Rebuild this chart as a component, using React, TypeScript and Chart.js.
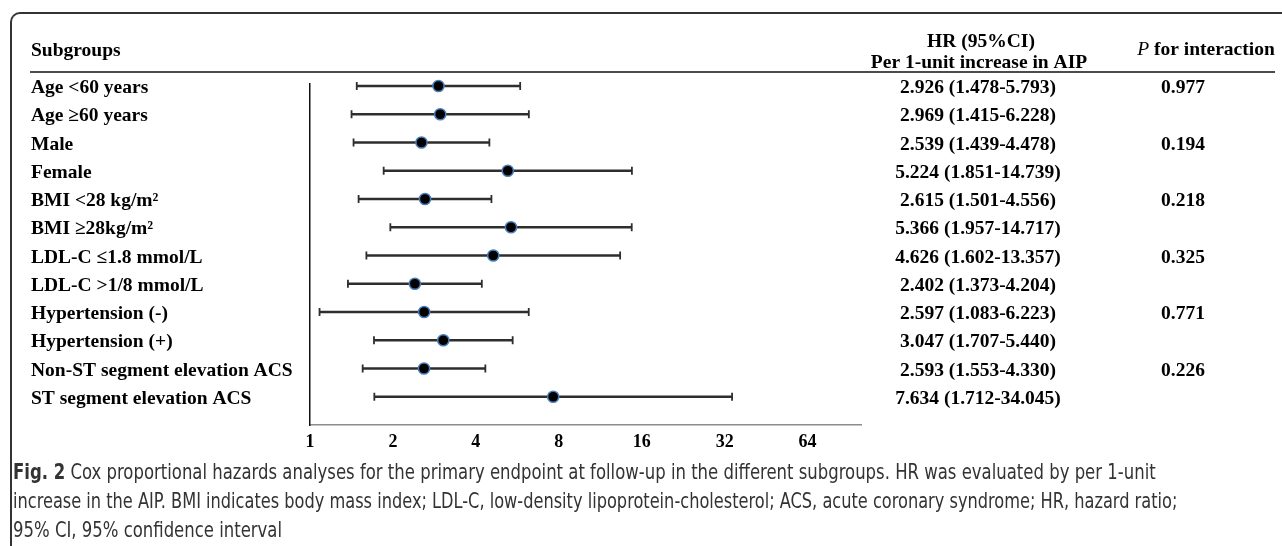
import React, { useEffect, useRef } from "react";
import { Chart, registerables } from "chart.js";

Chart.register(...registerables);

const subgroups = [
  "Age <60 years",
  "Age \u226560 years",
  "Male",
  "Female",
  "BMI <28 kg/m\u00b2",
  "BMI \u226528kg/m\u00b2",
  "LDL-C \u22641.8 mmol/L",
  "LDL-C >1/8 mmol/L",
  "Hypertension (-)",
  "Hypertension (+)",
  "Non-ST segment elevation ACS",
  "ST segment elevation ACS",
];
const hr = [2.926, 2.969, 2.539, 5.224, 2.615, 5.366, 4.626, 2.402, 2.597, 3.047, 2.593, 7.634];
const ciLow = [1.478, 1.415, 1.439, 1.851, 1.501, 1.957, 1.602, 1.373, 1.083, 1.707, 1.553, 1.712];
const ciHigh = [5.793, 6.228, 4.478, 14.739, 4.556, 14.717, 13.357, 4.204, 6.223, 5.44, 4.33, 34.045];
const pInteraction = ["0.977", "", "0.194", "", "0.218", "", "0.325", "", "0.771", "", "0.226", ""];
const xTicks = [1, 2, 4, 8, 16, 32, 64];

const SERIF = '"Liberation Serif", "Times New Roman", serif';

const hrText = hr.map(
  (v, i) => `${v.toFixed(3)} (${ciLow[i].toFixed(3)}-${ciHigh[i].toFixed(3)})`
);

const tablePlugin = {
  id: "tableText",
  afterDraw(chart: any) {
    const ctx = chart.ctx as CanvasRenderingContext2D;
    const yScale = chart.scales.y;
    ctx.save();
    ctx.fillStyle = "#000";
    ctx.textBaseline = "middle";
    ctx.font = `bold 19.5px ${SERIF}`;
    ctx.textAlign = "left";
    ctx.fillText("Subgroups", 31, 51);
    ctx.textAlign = "center";
    ctx.fillText("HR (95%CI)", 981, 42);
    ctx.fillText("Per 1-unit increase in AIP", 979, 63);
    // P for interaction
    ctx.font = `italic 19.5px ${SERIF}`;
    const wP = ctx.measureText("P").width;
    ctx.font = `bold 19.5px ${SERIF}`;
    const wRest = ctx.measureText(" for interaction").width;
    const startX = 1206 - (wP + wRest) / 2;
    ctx.textAlign = "left";
    ctx.font = `italic 19.5px ${SERIF}`;
    ctx.fillText("P", startX, 50);
    ctx.font = `bold 19.5px ${SERIF}`;
    ctx.fillText(" for interaction", startX + wP, 50);
    // rule
    ctx.strokeStyle = "#111";
    ctx.lineWidth = 1.5;
    ctx.beginPath();
    ctx.moveTo(30, 72);
    ctx.lineTo(1275, 72);
    ctx.stroke();
    // columns
    ctx.textAlign = "center";
    hrText.forEach((t, i) => {
      const py = yScale.getPixelForValue(i) + 2;
      ctx.fillText(t, 978, py);
      if (pInteraction[i]) ctx.fillText(pInteraction[i], 1183, py);
    });
    ctx.restore();
  },
};

export default function App() {
  const canvasRef = useRef<HTMLCanvasElement | null>(null);

  useEffect(() => {
    if (!canvasRef.current) return;
    const ciDatasets = subgroups.map((_, i) => ({
      type: "line" as const,
      data: [
        { x: ciLow[i], y: i },
        { x: ciHigh[i], y: i },
      ],
      showLine: true,
      borderColor: "#2e2e2e",
      borderWidth: 2.3,
      pointStyle: "line" as const,
      rotation: 90,
      pointRadius: 4,
      pointBorderWidth: 1.8,
      pointBorderColor: "#2e2e2e",
      pointBackgroundColor: "#2e2e2e",
      order: 2,
      clip: false as any,
    }));
    const pointDataset = {
      type: "scatter" as const,
      data: hr.map((v, i) => ({ x: v, y: i })),
      showLine: false,
      pointRadius: 5.6,
      pointBackgroundColor: "#000",
      pointBorderColor: "#4a7ebb",
      pointBorderWidth: 1.5,
      order: 0,
      clip: false as any,
    };

    const chart = new Chart(canvasRef.current, {
      type: "scatter",
      data: { datasets: [pointDataset as any, ...(ciDatasets as any[])] },
      plugins: [tablePlugin],
      options: {
        responsive: false,
        animation: false,
        devicePixelRatio: 1,
        events: [],
        layout: { padding: { left: 31, top: 84, right: 421, bottom: 0 } },
        plugins: {
          legend: { display: false },
          tooltip: { enabled: false },
          title: { display: false },
        },
        scales: {
          x: {
            type: "logarithmic",
            min: 1,
            max: 100,
            afterBuildTicks: (scale: any) => {
              scale.ticks = xTicks.map((v) => ({ value: v }));
            },
            afterFit: (scale: any) => {
              scale.height = 121;
            },
            grid: { display: false, drawTicks: false },
            border: { display: true, color: "#8c8c8c", width: 1.5 },
            ticks: {
              padding: 7,
              autoSkip: false,
              maxRotation: 0,
              color: "#000",
              font: { family: SERIF, weight: "bold", size: 18 },
              callback: (v: any) => String(v),
            },
          },
          y: {
            type: "linear",
            reverse: true,
            min: -0.07,
            max: 12,
            afterBuildTicks: (scale: any) => {
              scale.ticks = subgroups.map((_, i) => ({ value: i }));
            },
            afterFit: (scale: any) => {
              scale.width = 279;
            },
            grid: { display: false, drawTicks: false },
            border: { display: true, color: "#111", width: 1.5 },
            ticks: {
              crossAlign: "far",
              autoSkip: false,
              labelOffset: 2,
              color: "#000",
              font: { family: SERIF, weight: "bold", size: 19.5 },
              callback: (v: any) => subgroups[Number(v)] ?? "",
            },
          },
        },
      } as any,
    });
    return () => chart.destroy();
  }, []);

  const lineStyle = (s: number): React.CSSProperties => ({
    transform: `scaleX(${s})`,
    transformOrigin: "0 0",
    height: 29,
  });

  return (
    <div
      style={{
        position: "fixed",
        left: 0,
        top: 0,
        width: 1282,
        height: 546,
        overflow: "hidden",
        background: "#fff",
      }}
    >
      <canvas
        ref={canvasRef}
        width={1282}
        height={546}
        style={{ position: "absolute", left: 0, top: 0, width: 1282, height: 546 }}
      />
      <div
        style={{
          position: "absolute",
          left: 10,
          top: 12,
          width: 1300,
          height: 600,
          borderTop: "2px solid #333",
          borderLeft: "2px solid #333",
          borderTopLeftRadius: 10,
          boxSizing: "border-box",
          pointerEvents: "none",
        }}
      />
      <div
        style={{
          position: "absolute",
          left: 13,
          top: 458,
          fontFamily: '"Liberation Sans Narrow", "DejaVu Sans Condensed", "Arial Narrow", sans-serif',
          fontSize: 21,
          lineHeight: "29px",
          color: "#333",
          whiteSpace: "nowrap",
        }}
      >
        <div style={lineStyle(0.873)}>
          <b>Fig. 2</b> Cox proportional hazards analyses for the primary endpoint at follow-up in the
          different subgroups. HR was evaluated by per 1-unit
        </div>
        <div style={lineStyle(0.857)}>
          increase in the AIP. BMI indicates body mass index; LDL-C, low-density
          lipoprotein-cholesterol; ACS, acute coronary syndrome; HR, hazard ratio;
        </div>
        <div style={lineStyle(0.873)}>95% CI, 95% confidence interval</div>
      </div>
    </div>
  );
}
